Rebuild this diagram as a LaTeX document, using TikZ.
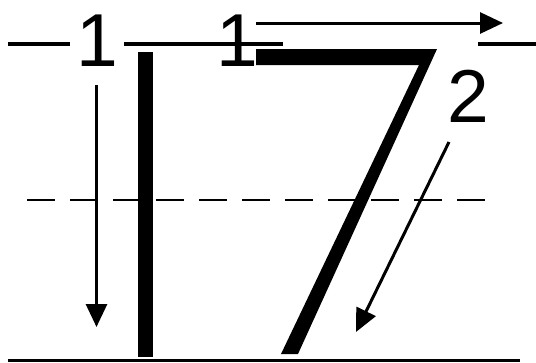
\documentclass[tikz,border=0pt]{standalone}
\usepackage{fontspec}
\setmainfont{Liberation Sans}
\usetikzlibrary{arrows.meta}
\tikzset{
  guide/.style={
    line width=4.5pt
  },
  midguide/.style={
    line width=2.5pt,
    dash pattern=on 28pt off 15pt
  },
  baseguide/.style={
    line width=2.5pt
  },
  order/.style={
    font=\fontsize{75}{75}\selectfont,
    inner sep=0pt,
    anchor=base
  },
  arrow/.style={
    -{Triangle[length=23pt,width=21pt]},
    line width=3pt
  }
}

\begin{document}
\begin{tikzpicture}[x=1pt,y=-1pt]
  \useasboundingbox (0,0) rectangle (536,362);

  % guide lines
  \draw[guide] (8,44) -- (70,44);
  \draw[guide] (124,44) -- (283,44);
  \draw[guide] (478,44) -- (536,44);
  \draw[midguide] (27,200) -- (495,200);
  \draw[baseguide] (8,360.5) -- (520,360.5);

  % the digits
  \fill (138,52) rectangle (153,357);
  \fill (256,49) -- (437,49) -- (298,354) -- (281,354) -- (419,65) -- (256,65) -- cycle;

  % stroke order
  \node[order] (oneorder) at (97,66) {1};
  \node[order] (barorder) at (237,66) {1};
  \node[order] (slantorder) at (468,122) {2};

  \coordinate (downstart) at (96.5,85);
  \coordinate (downend) at (96.5,327);
  \coordinate (barstart) at (256,23);
  \coordinate (barend) at (503,23);
  \coordinate (slantstart) at (449,142);
  \coordinate (slantend) at (356,332);

  \draw[arrow] (downstart) -- (downend);
  \draw[arrow] (barstart) -- (barend);
  \draw[arrow] (slantstart) -- (slantend);
\end{tikzpicture}
\end{document}
